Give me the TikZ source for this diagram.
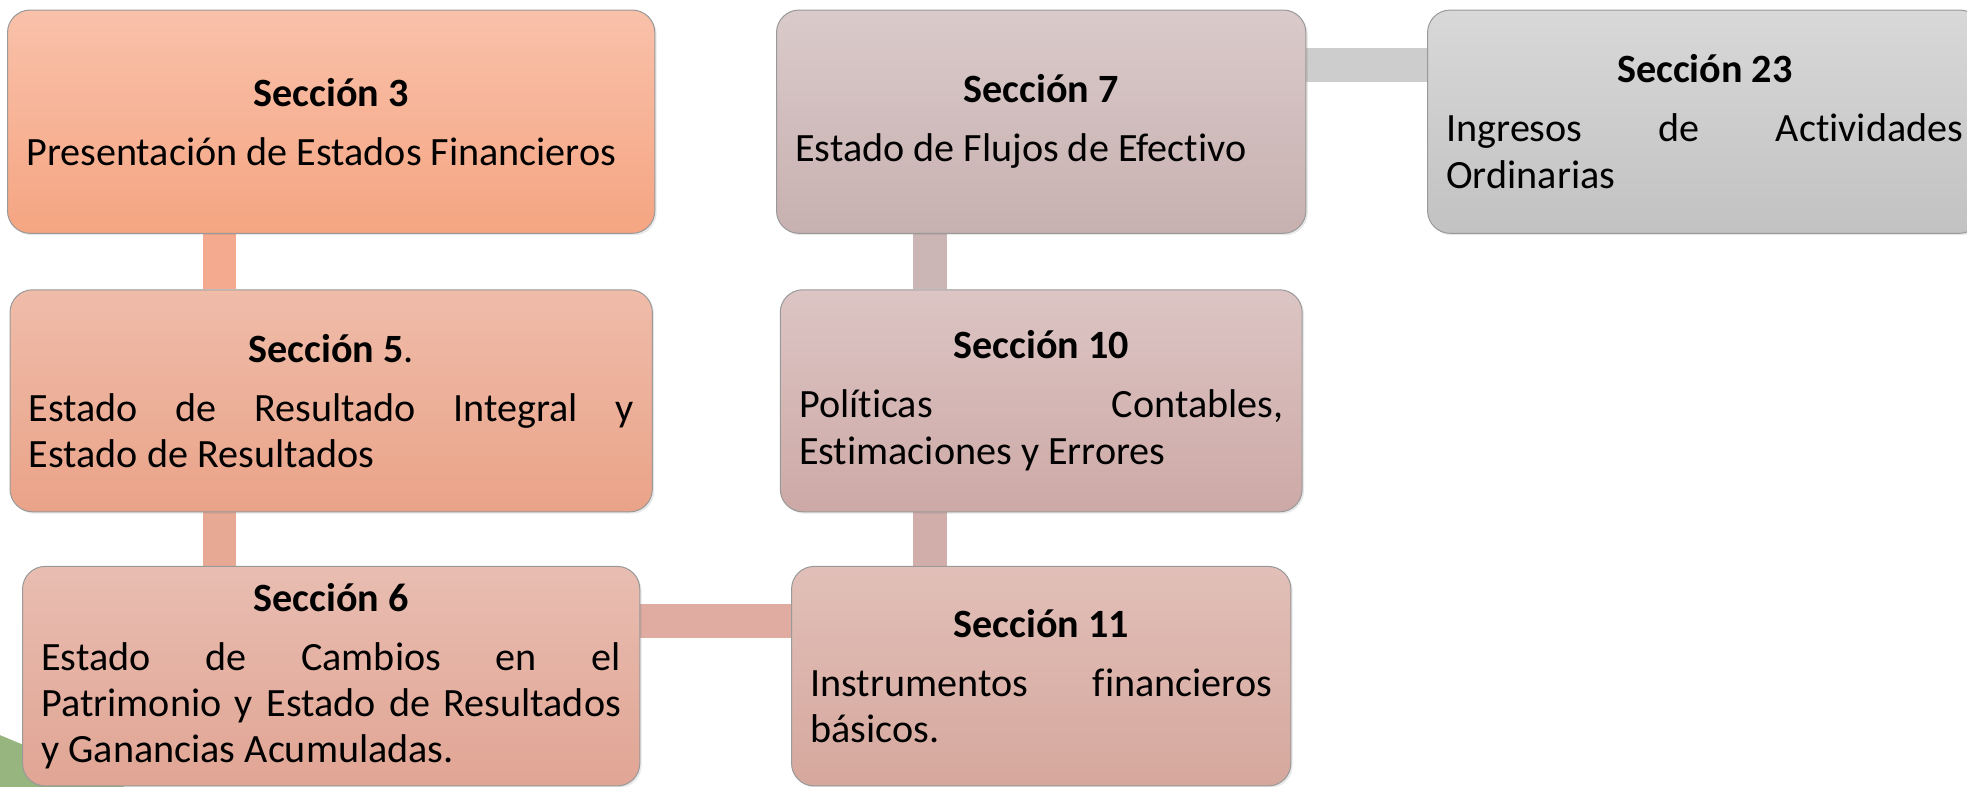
\documentclass[tikz,border=0pt]{standalone}
\usepackage{fontspec}
\setmainfont[Ligatures=NoCommon]{Carlito}
\usetikzlibrary{positioning,backgrounds,shadows}

\definecolor{tresA}{HTML}{F9C1AA}
\definecolor{tresB}{HTML}{F5A582}
\definecolor{cincoA}{HTML}{EFBCA9}
\definecolor{cincoB}{HTML}{EAA389}
\definecolor{seisA}{HTML}{E8BDB1}
\definecolor{seisB}{HTML}{E1A594}
\definecolor{sieteA}{HTML}{DACACA}
\definecolor{sieteB}{HTML}{C8B0B0}
\definecolor{diezA}{HTML}{DCC5C4}
\definecolor{diezB}{HTML}{CDA9A6}
\definecolor{onceA}{HTML}{E1BFB8}
\definecolor{onceB}{HTML}{D6A89D}
\definecolor{veintitresA}{HTML}{D8D8D8}
\definecolor{veintitresB}{HTML}{C2C2C2}
\definecolor{barraTres}{HTML}{F3AA8E}
\definecolor{barraCinco}{HTML}{E8A994}
\definecolor{barraSiete}{HTML}{CCB6B5}
\definecolor{barraDiez}{HTML}{D2AEAA}
\definecolor{barraGris}{HTML}{CDCDCD}
\definecolor{barraSeis}{HTML}{E0ABA0}
\definecolor{verde}{HTML}{97B67F}

\tikzset{
  seccion/.style={draw=black!40, line width=0.8pt, rounded corners=18pt,
    inner xsep=15pt, inner ysep=0pt, align=justify,
    font=\fontsize{32}{37}\selectfont,
    drop shadow={opacity=0.18, shadow xshift=1.5pt, shadow yshift=-1.5pt}},
  enlace/.style={line width=27pt},
}
\newcommand{\sectexto}[2]{{\centering\bfseries #1\par}\vspace{10pt}\hyphenpenalty=10000 #2}

\begin{document}
\begin{tikzpicture}[x=1pt,y=-1pt]
\useasboundingbox (0,0) rectangle (1568,627);

% draw the section boxes
\foreach \nombre/\cx/\cy/\ancho/\alto/\tono/\titulo/\texto in {
  s3/264/97/516/178/tres/{Sección 3}/{Presentación de Estados Financieros},
  s5/264/319.5/512/177/cinco/{Sección 5\mdseries.}/{Estado de Resultado Integral y\linebreak Estado de Resultados},
  s6/264/539/492/175/seis/{Sección 6}/{Estado de Cambios en el\linebreak Patrimonio y Estado de Resultados\linebreak y Ganancias Acumuladas.},
  s7/830/97/422/178/siete/{Sección 7}/{Estado de Flujos de Efectivo},
  s10/830/319.5/416/177/diez/{Sección 10}/{Políticas Contables,\linebreak Estimaciones y Errores},
  s11/830/539/398/175/once/{Sección 11}/{Instrumentos financieros\linebreak básicos.},
  s23/1359/97/442/178/veintitres/{Sección 23}/{Ingresos de Actividades\linebreak Ordinarias}
}
{
  \pgfmathsetmacro\anchoTexto{\ancho-30}
  \node[seccion, text width=\anchoTexto pt, minimum height=\alto pt,
        top color=\tono A, bottom color=\tono B] (\nombre) at (\cx,\cy)
        {\sectexto{\titulo}{\texto}};
}

% draw the connectors behind the boxes
\begin{scope}[on background layer]
  \fill[verde] (0,586) -- (130,640) -- (0,640) -- cycle;
  \draw[enlace,barraTres] ([xshift=-89pt]s3.south) -- ([xshift=-89pt]s5.north);
  \draw[enlace,barraCinco] ([xshift=-89pt]s5.south) -- ([xshift=-89pt]s6.north);
  \draw[enlace,barraSiete] ([xshift=-88.5pt]s7.south) -- ([xshift=-88.5pt]s10.north);
  \draw[enlace,barraDiez] ([xshift=-88.5pt]s10.south) -- ([xshift=-88.5pt]s11.north);
  \draw[enlace,barraGris] ([yshift=45pt]s7.east) -- ([yshift=45pt]s23.west);
  \draw[enlace,barraSeis] ([yshift=44pt]s6.east) -- ([yshift=44pt]s11.west);
\end{scope}
\end{tikzpicture}
\end{document}
